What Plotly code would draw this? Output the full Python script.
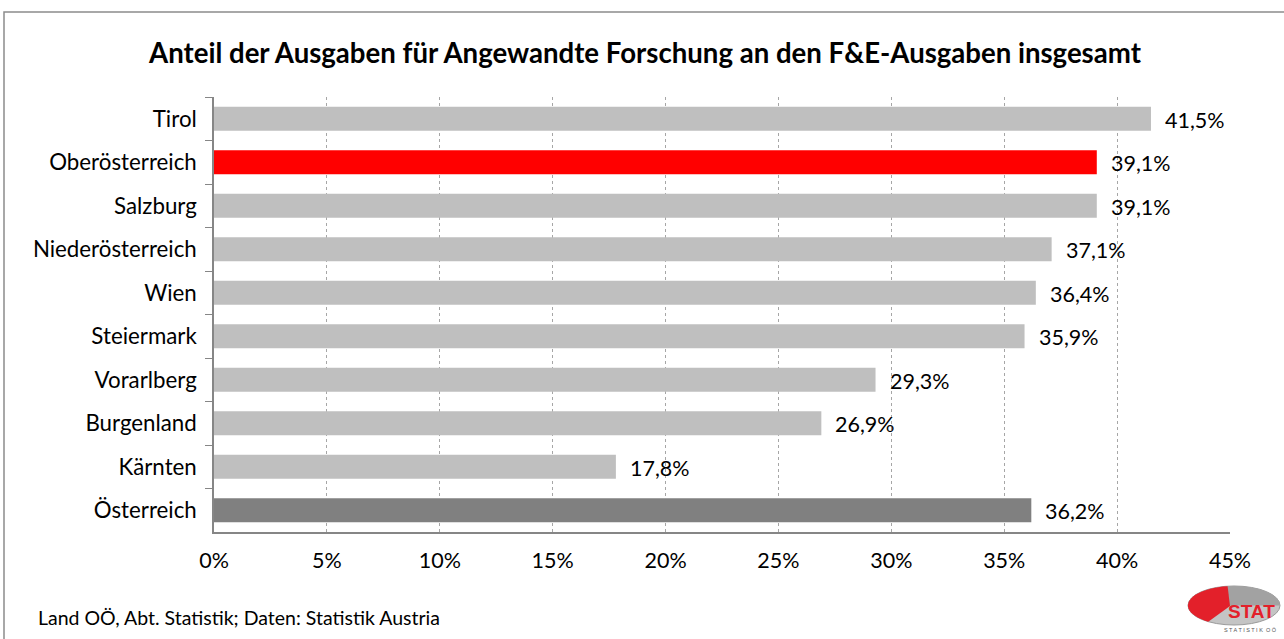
import math
import plotly.graph_objects as go

categories = ["Tirol", "Oberösterreich", "Salzburg", "Niederösterreich", "Wien",
              "Steiermark", "Vorarlberg", "Burgenland", "Kärnten", "Österreich"]
values = [41.5, 39.1, 39.1, 37.1, 36.4, 35.9, 29.3, 26.9, 17.8, 36.2]
bar_colors = ["#BFBFBF", "#FF0000", "#BFBFBF", "#BFBFBF", "#BFBFBF",
              "#BFBFBF", "#BFBFBF", "#BFBFBF", "#BFBFBF", "#808080"]
x_ticks = [0, 5, 10, 15, 20, 25, 30, 35, 40, 45]
x_ticklabels = ["0%", "5%", "10%", "15%", "20%", "25%", "30%", "35%", "40%", "45%"]
labels = [f"{v:.1f}%".replace(".", ",") for v in values]

FONT = "Lato, 'Liberation Sans', sans-serif"
W, H = 1284, 639
L, R, T, B = 214, 54, 97, 107
PW, PH = W - L - R, H - T - B


def px(x):
    return (x - L) / PW


def py(y):
    return 1 - (y - T) / PH


fig = go.Figure()
fig.add_trace(go.Bar(
    y=categories, x=values, orientation="h",
    marker=dict(color=bar_colors, line=dict(width=0)),
    width=0.55, hoverinfo="skip",
))

for c, v, t in zip(categories, values, labels):
    fig.add_annotation(x=v, y=c, text=t, showarrow=False, xanchor="left",
                       yanchor="middle", xshift=12, yshift=-1,
                       font=dict(size=21.5, color="#000", family=FONT))

# outer frame
fig.add_shape(type="rect", xref="paper", yref="paper",
              x0=px(4), x1=px(1300), y0=py(660), y1=py(12),
              line=dict(color="#8C8C8C", width=1.5), layer="below")

# logo approximation
cx, cy, rx, ry = 1234, 605.5, 46, 19.5
fig.add_shape(type="circle", xref="paper", yref="paper",
              x0=px(cx - rx), x1=px(cx + rx), y0=py(cy + ry), y1=py(cy - ry),
              fillcolor="#C4C4C4", line=dict(color="#9A9A9A", width=1))
upper = [(cx + rx * math.cos(math.radians(a)), cy - ry * math.sin(math.radians(a)))
         for a in range(0, 181, 10)]
fig.add_shape(type="path", xref="paper", yref="paper",
              path="M " + " L ".join(f"{px(x)} {py(y)}" for x, y in upper) + " Z",
              fillcolor="#A2A2A2", line=dict(width=0))
red = [(cx + rx * math.cos(math.radians(a)), cy - ry * math.sin(math.radians(a)))
       for a in range(98, 241, 6)]
fig.add_shape(type="path", xref="paper", yref="paper",
              path="M " + " L ".join(f"{px(x)} {py(y)}" for x, y in red)
              + f" L {px(1230)} {py(606)} Z",
              fillcolor="#E3202A", line=dict(width=0))
fig.add_annotation(xref="paper", yref="paper",
                   x=px(1251), y=py(611), xanchor="center", yanchor="middle",
                   text="<b>STAT</b>", showarrow=False,
                   font=dict(size=19, color="#E3202A", family="Liberation Sans"))
fig.add_annotation(xref="paper", yref="paper",
                   x=px(1250), y=py(630), xanchor="center", yanchor="middle",
                   text="S T A T I S T I K  O Ö", showarrow=False,
                   font=dict(size=5.5, color="#555", family="Liberation Sans"))

# title
fig.add_annotation(xref="paper", yref="paper",
                   x=px(645), y=py(52), xanchor="center", yanchor="middle",
                   text="<b>Anteil der Ausgaben für Angewandte Forschung an den F&E-Ausgaben insgesamt</b>",
                   showarrow=False, font=dict(size=27.6, color="#000", family=FONT))

# source
fig.add_annotation(xref="paper", yref="paper",
                   x=px(36), y=py(617), xanchor="left", yanchor="middle",
                   text="Land OÖ, Abt. Statistik; Daten: Statistik Austria",
                   showarrow=False, font=dict(size=19.5, color="#000", family=FONT))

fig.update_layout(
    width=W, height=H,
    margin=dict(l=L, r=R, t=T, b=B, autoexpand=False),
    paper_bgcolor="white", plot_bgcolor="white",
    showlegend=False,
    xaxis=dict(range=[0, 45], tickvals=x_ticks, ticktext=x_ticklabels,
               showgrid=True, gridcolor="#A6A6A6", griddash="3px,3px", gridwidth=1,
               showline=True, linecolor="#868686", linewidth=1.5,
               ticks="", zeroline=False, ticklabelstandoff=8,
               tickfont=dict(size=21.5, color="#000", family=FONT)),
    yaxis=dict(autorange="reversed", showline=True, linecolor="#868686", linewidth=1.5,
               ticks="outside", ticklen=7, tickcolor="#868686", tickson="boundaries",
               ticklabelstandoff=11,
               tickfont=dict(size=22.3, color="#000", family=FONT)),
)

fig.write_html("out.html", config={"displayModeBar": False},
               post_script="document.body.style.margin='0px';")
